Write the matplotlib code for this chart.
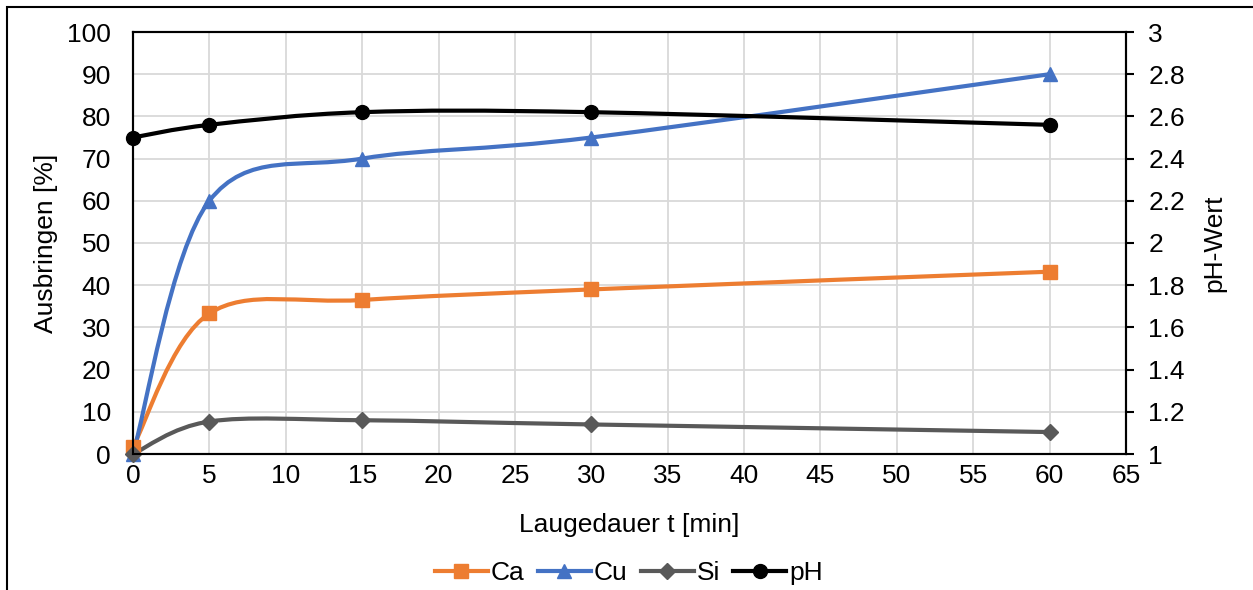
import matplotlib
matplotlib.use("Agg")
import matplotlib.pyplot as plt
import numpy as np
from matplotlib.path import Path
from matplotlib.patches import PathPatch, Rectangle
from matplotlib.lines import Line2D

plt.rcParams['font.family'] = ['Liberation Sans', 'DejaVu Sans']

# data
time_min = [0, 5, 15, 30, 60]
ca = [1.7, 33.3, 36.5, 39.0, 43.2]
cu = [0.0, 60.0, 70.0, 75.0, 90.0]
si = [0.0, 7.7, 8.0, 7.0, 5.2]
ph = [2.50, 2.56, 2.62, 2.62, 2.56]

series_names = ["Ca", "Cu", "Si", "pH"]
colors = {"Ca": "#ED7D31", "Cu": "#4472C4", "Si": "#595959", "pH": "#000000"}
markers = {"Ca": "s", "Cu": "^", "Si": "D", "pH": "o"}
msizes = {"Ca": 10, "Cu": 10.5, "Si": 8, "pH": 10}

FS = 19
W, H = 1253, 590
fig = plt.figure(figsize=(W / 100, H / 100), dpi=100)
ax = fig.add_axes([133 / W, 1 - 454 / H, (1126 - 133) / W, (454 - 32) / H])
ax2 = ax.twinx()


def smooth_path(xs, ys):
    P = np.column_stack([xs, ys]).astype(float)
    n = len(P)
    verts = [P[0]]
    codes = [Path.MOVETO]
    for i in range(n - 1):
        p0 = P[i - 1] if i > 0 else P[i]
        p1 = P[i]
        p2 = P[i + 1]
        p3 = P[i + 2] if i + 2 < n else P[i + 1]
        c1 = p1 + (p2 - p0) / 6.0
        c2 = p2 - (p3 - p1) / 6.0
        verts += [c1, c2, p2]
        codes += [Path.CURVE4] * 3
    return Path(verts, codes)


lw = 3.0
for name, vals, a in [("Ca", ca, ax), ("Cu", cu, ax), ("Si", si, ax), ("pH", ph, ax2)]:
    patch = PathPatch(smooth_path(time_min, vals), facecolor="none",
                      edgecolor=colors[name], lw=lw, capstyle="round",
                      joinstyle="round", zorder=3)
    a.add_patch(patch)
    a.plot(time_min, vals, linestyle="none", marker=markers[name],
           color=colors[name], markersize=msizes[name], zorder=4, clip_on=False)

ax.set_xlim(0, 65)
ax.set_ylim(0, 100)
ax2.set_ylim(1, 3)
ax.set_xticks(np.arange(0, 66, 5))
ax.set_yticks(np.arange(0, 101, 10))
ax2.set_yticks(np.arange(1, 3.01, 0.2))
ax2.set_yticklabels(["1", "1.2", "1.4", "1.6", "1.8", "2", "2.2", "2.4", "2.6", "2.8", "3"])

ax.grid(True, color="#D9D9D9", lw=1.3)
ax.set_axisbelow(True)
for a in (ax, ax2):
    for s in a.spines.values():
        s.set_color("black")
        s.set_linewidth(1.5)

ax.tick_params(axis="both", length=0, labelsize=FS)
ax.tick_params(axis="y", pad=16)
ax.tick_params(axis="x", pad=7)
ax2.tick_params(axis="y", direction="out", length=6, width=1.5, pad=10, labelsize=FS)

ax.set_xlabel("Laugedauer t [min]", fontsize=FS)
ax.xaxis.set_label_coords(0.5, -(525 - 454) / (454 - 32))
ax.xaxis.label.set_va("center")
ax.set_ylabel("Ausbringen [%]", fontsize=FS)
ax.yaxis.set_label_coords(-(133 - 46) / (1126 - 133), 0.5)
ax.yaxis.label.set_va("center")
ax2.set_ylabel("pH-Wert", fontsize=FS, rotation=90)
ax2.yaxis.set_label_coords(1 + (1214 - 1126) / (1126 - 133), 0.5)
ax2.yaxis.label.set_va("center")

handles = [Line2D([], [], color=colors[n], lw=lw, marker=markers[n],
                  markersize=msizes[n]) for n in series_names]
fig.legend(handles, series_names, loc="center", ncol=4, frameon=False,
           bbox_to_anchor=(629 / W, 1 - 573 / H), fontsize=FS,
           handlelength=2.0, handletextpad=0.12, columnspacing=0.5,
           borderpad=0, borderaxespad=0)

fig.patches.append(Rectangle((7 / W, -0.2), 2, 1 - 7 / H + 0.2,
                             transform=fig.transFigure, fill=False,
                             edgecolor="black", lw=1.5))

fig.savefig("out.png", dpi=100)
